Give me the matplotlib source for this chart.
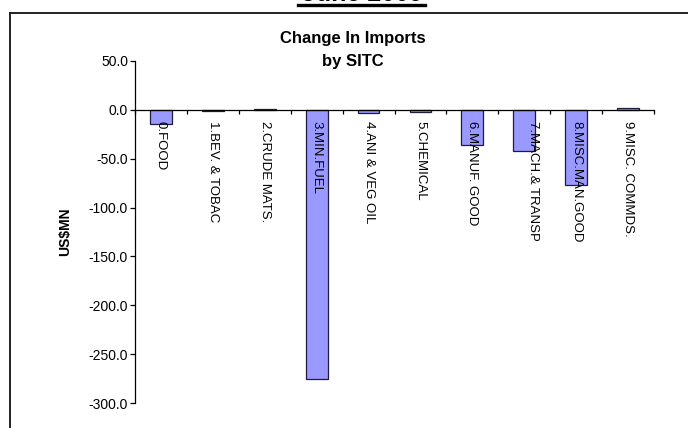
import matplotlib
matplotlib.use("Agg")
import matplotlib.pyplot as plt
import numpy as np
from matplotlib.lines import Line2D
from matplotlib.ticker import FixedLocator, FormatStrFormatter, NullFormatter
from matplotlib.transforms import ScaledTranslation

plt.rcParams['font.family'] = ['Liberation Sans', 'DejaVu Sans']

categories = ["0.FOOD", "1.BEV. & TOBAC", "2.CRUDE MATS.", "3.MIN.FUEL",
              "4.ANI & VEG OIL", "5.CHEMICAL", "6.MANUF. GOOD",
              "7.MACH.& TRANSP", "8.MISC.MAN.GOOD", "9.MISC. COMMDS."]
change = [-14.3, -1.5, 1.0, -275.3, -3.0, -2.5, -36.2, -42.3, -77.3, 1.2]
y_ticks = [50, 0, -50, -100, -150, -200, -250, -300]

W, H = 688, 428
fig = plt.figure(figsize=(W / 100, H / 100), dpi=100)

# page heading, mostly above the top edge
fig.text(362 / W, 1 - 0.8 / H, "June 2009", ha="center", va="baseline",
         fontsize=18, fontweight="bold", color="black")
fig.add_artist(Line2D([298 / W, 425 / W], [1 - 5 / H, 1 - 5 / H],
                      color="black", lw=2.4))

# chart frame (left and top edges visible)
fig.add_artist(Line2D([9.6 / W, 9.6 / W], [0, 1 - 13.3 / H], color="#222222", lw=1.4))
fig.add_artist(Line2D([9.6 / W, 1], [1 - 13.3 / H, 1 - 13.3 / H], color="#222222", lw=1.4))

ax_left, ax_right = 135, 654
ax_top, ax_bot = 60.7, 403.3
ax = fig.add_axes([ax_left / W, (H - ax_bot) / H,
                   (ax_right - ax_left) / W, (ax_bot - ax_top) / H])
ax.set_axisbelow(False)

x = np.arange(len(categories)) + 0.5
ax.bar(x, change, width=0.42, color="#9999FF", edgecolor="#1c1c3c",
       linewidth=0.9, zorder=1)

ax.set_xlim(0, len(categories))
ax.set_ylim(-300, 50)

for side in ("top", "right"):
    ax.spines[side].set_visible(False)
ax.spines["bottom"].set_position(("data", 0))
ax.spines["bottom"].set_linewidth(0.9)
ax.spines["left"].set_linewidth(0.9)

ax.yaxis.set_major_locator(FixedLocator(y_ticks))
ax.yaxis.set_major_formatter(FormatStrFormatter("%.1f"))
ax.tick_params(axis="y", direction="out", length=3.5, width=0.9,
               pad=1.5, labelsize=10)

ax.xaxis.set_major_locator(FixedLocator(np.arange(len(categories) + 1)))
ax.xaxis.set_major_formatter(NullFormatter())
ax.xaxis.set_minor_locator(FixedLocator(x))
ax.set_xticklabels(categories, minor=True, rotation=-90, fontsize=9.5)
ax.tick_params(axis="x", which="major", direction="out", length=3, width=0.9)
ax.tick_params(axis="x", which="minor", length=0, pad=8.5)

lbl = ax.xaxis.get_minorticklabels()[7]
lbl.set_transform(lbl.get_transform() + ScaledTranslation(9 / 100, 0, fig.dpi_scale_trans))

ax.set_ylabel("US$MN", fontsize=10, fontweight="bold")
ax.yaxis.set_label_coords(72.5 / W, 1 - 232 / H, transform=fig.transFigure)

fig.text(353 / W, 1 - 42.7 / H, "Change In Imports", ha="center",
         va="baseline", fontsize=12, fontweight="bold")
fig.text(353 / W, 1 - 66 / H, "by SITC", ha="center",
         va="baseline", fontsize=12, fontweight="bold")

fig.savefig("out.png", dpi=100)
